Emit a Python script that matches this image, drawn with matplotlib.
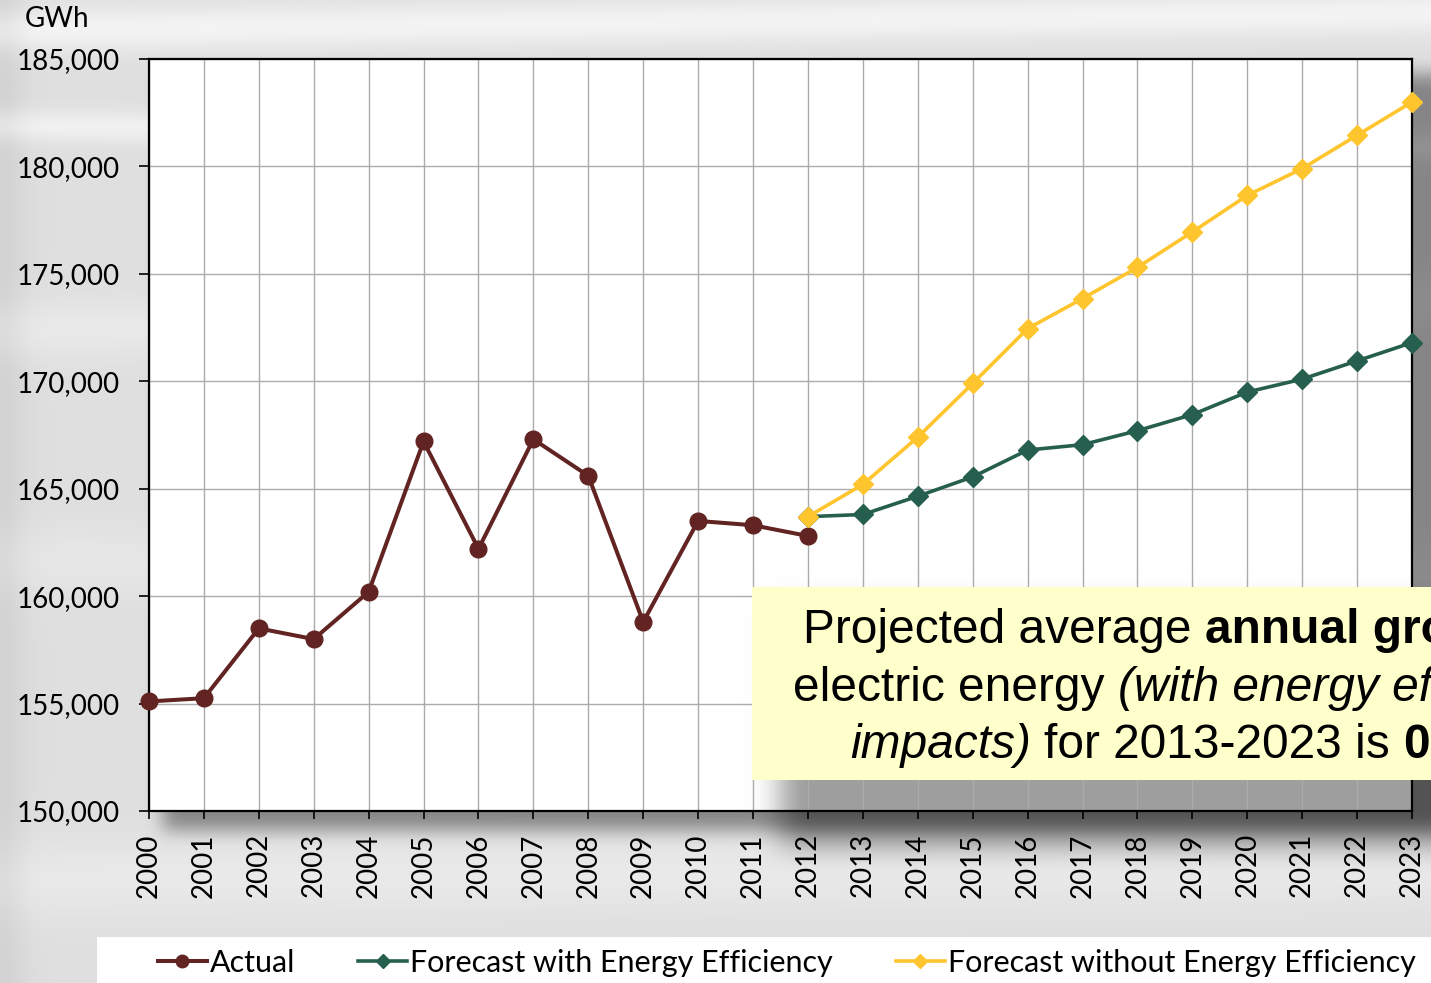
import numpy as np
import matplotlib
matplotlib.use('Agg')
import matplotlib.pyplot as plt
from matplotlib.patches import Rectangle
from matplotlib.transforms import IdentityTransform
from matplotlib.ticker import FuncFormatter, MultipleLocator

# annual energy, GWh
years_actual = list(range(2000, 2013))
actual = [155100, 155250, 158500, 158000, 160200, 167200, 162200,
          167300, 165600, 158800, 163500, 163300, 162800]
years_fc = list(range(2012, 2024))
with_ee = [163700, 163800, 164650, 165550, 166800, 167050,
           167700, 168450, 169500, 170100, 170950, 171800]
without_ee = [163700, 165200, 167400, 169900, 172450, 173850,
              175300, 176950, 178650, 179900, 181450, 183000]

C_ACTUAL = '#622423'
C_EE = '#275f4f'
C_NOEE = '#fec52e'

plt.rcParams['font.family'] = ['Lato', 'DejaVu Sans']

W, H = 1431, 983
fig = plt.figure(figsize=(W / 100, H / 100), dpi=100)


def box_blur(a, r):
    k = 2 * r + 1
    p = np.pad(a, ((0, 0), (r + 1, r)), mode='edge')
    c = np.cumsum(p, axis=1)
    a = (c[:, k:] - c[:, :-k]) / k
    p = np.pad(a, ((r + 1, r), (0, 0)), mode='edge')
    c = np.cumsum(p, axis=0)
    return (c[k:, :] - c[:-k, :]) / k


def soft_rect(x0, x1, y0, y1, r):
    m = np.zeros((H, W))
    m[max(y0, 0):min(y1, H), max(x0, 0):min(x1, W)] = 1.0
    for _ in range(3):
        m = box_blur(m, r)
    return m


# grey slide background with soft light streaks
yy, xx = np.mgrid[0:H, 0:W].astype(float)
bg = np.full((H, W), 0.875)
for yc, slope, width, amp in [(30, -0.012, 22, 0.08), (125, 0.015, 16, 0.07),
                              (330, -0.02, 30, 0.04), (560, 0.01, 35, 0.03),
                              (880, -0.01, 40, 0.04)]:
    bg += amp * np.exp(-((yy - yc - slope * xx) / width) ** 2)
bg -= 0.05 * np.exp(-(xx / 25.0) ** 2)

# plot area with drop shadow, then the note's shadow over it
bg *= 1 - 0.4 * soft_rect(163, 1440, 74, 830, 8)
bg[59:812, 149:1413] = 1.0
bg *= 1 - 0.38 * soft_rect(780, 1480, 610, 845, 13)
img = np.dstack([np.clip(bg, 0, 1)] * 3)
fig.figimage(img, 0, 0, zorder=-5)

ax = fig.add_axes([149 / W, 1 - 811 / H, 1263 / W, 752 / H])
ax.set_facecolor('none')

ax.plot(years_actual, actual, color=C_ACTUAL, lw=2.9, marker='o', ms=12,
        label='Actual', clip_on=False, zorder=3)
ax.plot(years_fc, with_ee, color=C_EE, lw=2.6, marker='D', ms=10,
        label='Forecast with Energy Efficiency', clip_on=False, zorder=4)
ax.plot(years_fc, without_ee, color=C_NOEE, lw=2.6, marker='D', ms=10,
        label='Forecast without Energy Efficiency', clip_on=False, zorder=5)

ax.set_xlim(2000, 2023)
ax.set_ylim(150000, 185000)
ax.xaxis.set_major_locator(MultipleLocator(1))
ax.yaxis.set_major_locator(MultipleLocator(5000))
ax.yaxis.set_major_formatter(FuncFormatter(lambda v, p: f'{int(v):,}'))
ax.grid(True, color='#ababab', lw=1.0)
ax.set_axisbelow(True)
for s in ax.spines.values():
    s.set_color('black')
    s.set_linewidth(1.6)
ax.tick_params(axis='y', direction='out', length=7, width=1.2,
               labelsize=20, pad=14)
ax.tick_params(axis='x', direction='out', length=6, width=1.2,
               labelsize=20, pad=10, labelrotation=90)

fig.text(25 / W, 1 - 6 / H, 'GWh', fontsize=20, va='top', ha='left')

# legend strip
fig.patches.append(Rectangle((97 / W, 0), 1, 1 - 937 / H,
                             transform=fig.transFigure, facecolor='white',
                             edgecolor='none', zorder=1))
fig.legend(loc='center left', bbox_to_anchor=(158 / W, 1 - 963 / H),
           ncol=3, frameon=False, fontsize=22, handlelength=1.6,
           handletextpad=0.1, columnspacing=2.06, borderpad=0,
           borderaxespad=0, markerscale=0.75)

# note box
fig.patches.append(Rectangle((752 / W, 1 - 780 / H), 1, 193 / H,
                             transform=fig.transFigure, facecolor='#ffffcc',
                             edgecolor='none', zorder=5))

renderer = fig.canvas.get_renderer()
NOTE_FS = 34.5


def width_of(s, **kw):
    t = fig.text(0, 0, s, fontsize=NOTE_FS, family='Liberation Sans', **kw)
    w = t.get_window_extent(renderer).width
    t.remove()
    return w


def rich_line(x, y, parts):
    for s, weight, style in parts:
        lead = len(s) - len(s.lstrip(' '))
        if lead:
            x += lead * (width_of('x x', weight=weight, style=style)
                         - width_of('xx', weight=weight, style=style))
            s = s.lstrip(' ')
        t = fig.text(x, y, s, transform=IdentityTransform(), fontsize=NOTE_FS,
                     family='Liberation Sans', weight=weight, style=style,
                     va='baseline', ha='left', zorder=6)
        x += t.get_window_extent(renderer).width


rich_line(803, H - 643, [('Projected average', 'normal', 'normal'),
                         (' annual growth', 'bold', 'normal')])
rich_line(793, H - 701, [('electric energy', 'normal', 'normal'),
                         (' (with energy efficiency', 'normal', 'italic')])
rich_line(850, H - 758, [('impacts)', 'normal', 'italic'),
                         (' for 2013-2023 is', 'normal', 'normal'),
                         (' 0.4%', 'bold', 'normal')])

fig.savefig('out.png', dpi=100)
